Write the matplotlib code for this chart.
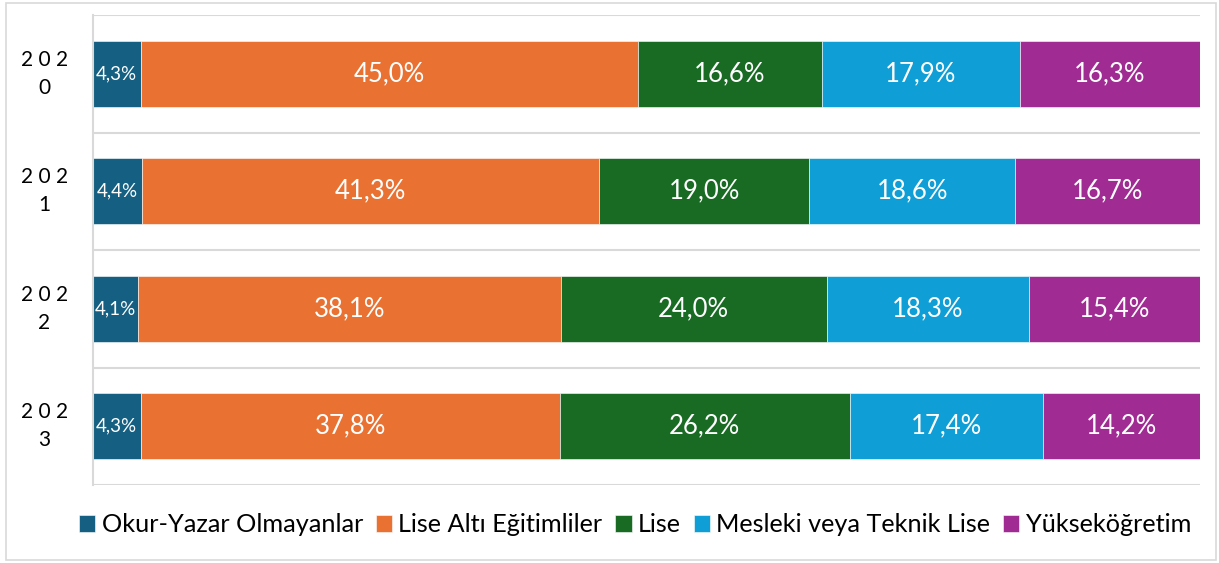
import matplotlib.pyplot as plt
import numpy as np
from matplotlib.patches import Rectangle

plt.rcParams['font.family'] = ['Lato', 'DejaVu Sans']

# data
years = ["2 0 2\n0", "2 0 2\n1", "2 0 2\n2", "2 0 2\n3"]
series = ["Okur-Yazar Olmayanlar", "Lise Altı Eğitimliler", "Lise",
          "Mesleki veya Teknik Lise", "Yükseköğretim"]
okur_yazar = [4.3, 4.4, 4.1, 4.3]
lise_alti = [45.0, 41.3, 38.1, 37.8]
lise = [16.6, 19.0, 24.0, 26.2]
mesleki = [17.9, 18.6, 18.3, 17.4]
yuksek = [16.3, 16.7, 15.4, 14.2]
colors = ["#156082", "#E97132", "#196B24", "#0F9ED5", "#A02B93"]

values = np.array([okur_yazar, lise_alti, lise, mesleki, yuksek])
shares = values / values.sum(axis=0)  # 100% stacked, like the source chart

fig = plt.figure(figsize=(12.19, 5.63), dpi=100)
fig.patches.append(Rectangle((6 / 1219, 3 / 563), 1210 / 1219, 557 / 563,
                             transform=fig.transFigure, fill=False,
                             edgecolor="#D9D9D9", linewidth=1.2))
ax = fig.add_axes([93 / 1219, 1 - 485 / 563, (1200 - 93) / 1219, 470 / 563])

y = np.arange(len(years))
left = np.zeros(len(years))
for i, name in enumerate(series):
    bars = ax.barh(y, shares[i], left=left, height=0.56, color=colors[i],
                   edgecolor="white", linewidth=0.4, label=name)
    for j, b in enumerate(bars):
        txt = f"{values[i][j]:.1f}%".replace(".", ",")
        ax.text(left[j] + shares[i][j] / 2, y[j], txt, ha="center", va="center",
                color="white", fontsize=13.5 if i == 0 else 18.5)
    left += shares[i]

ax.set_xlim(0, 1)
ax.set_ylim(len(years) - 0.5, -0.5)
ax.set_yticks(y)
ax.set_yticklabels(years, fontsize=15, ha="center")
for t in ax.get_yticklabels():
    t.set_linespacing(1.5)
    t.set_verticalalignment("center")
ax.set_yticks(np.arange(-0.5, len(years)), minor=True)
ax.tick_params(axis="y", which="both", length=0, pad=35)
ax.set_xticks([])
ax.grid(axis="y", which="minor", color="#D9D9D9", linewidth=1.5)
ax.set_axisbelow(True)
for s in ["top", "right", "bottom"]:
    ax.spines[s].set_visible(False)
ax.spines["left"].set_color("#D9D9D9")
ax.spines["left"].set_linewidth(1.5)

fig.legend(loc="center", bbox_to_anchor=(635 / 1219, 1 - 525 / 563), ncol=5,
           frameon=False, fontsize=18.2, handlelength=0.65, handleheight=0.65,
           handletextpad=0.25, columnspacing=0.5)

fig.savefig("out.png", dpi=100)
